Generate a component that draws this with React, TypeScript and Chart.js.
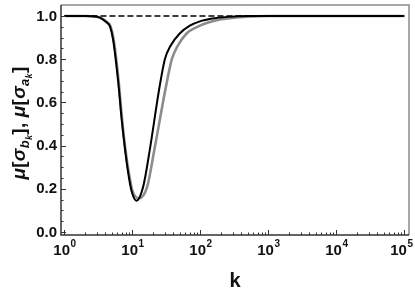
import React, { useEffect, useRef } from "react";
import { Chart, registerables } from "chart.js";

Chart.register(...registerables);

// Black curve  mu[sigma_bk]
const blackK = [1, 2, 3, 4.2, 4.7, 5.2, 6.2, 6.9, 7.8, 8.7, 9.7, 11.5, 14.4, 18, 25, 30, 36, 50, 70, 98, 150, 250, 500, 1000, 10000, 100000];
const blackV = [1, 1, 0.997, 0.97, 0.95, 0.89, 0.69, 0.53, 0.38, 0.27, 0.19, 0.145, 0.21, 0.38, 0.67, 0.8, 0.86, 0.92, 0.955, 0.975, 0.988, 0.996, 1, 1, 1, 1];
// Gray curve  mu[sigma_ak]
const grayK = [1, 2, 3, 4.3, 4.8, 5.3, 6.3, 7.0, 7.9, 8.9, 10, 12.6, 16.5, 21, 31, 38, 46, 63, 90, 130, 200, 350, 600, 1000, 10000, 100000];
const grayV = [1, 1, 0.997, 0.97, 0.95, 0.89, 0.69, 0.53, 0.38, 0.27, 0.19, 0.156, 0.21, 0.38, 0.67, 0.8, 0.86, 0.92, 0.95, 0.97, 0.985, 0.994, 0.998, 1, 1, 1];
// Reference dashed line
const refK = [1, 100000];
const refV = [1, 1];

const yTickLabels = ["0.0", "0.2", "0.4", "0.6", "0.8", "1.0"];
const xTickExps = ["0", "1", "2", "3", "4", "5"];

const FONT = '"Liberation Sans", Arial, sans-serif';

const decorPlugin = {
  id: "decor",
  afterDraw(chart: any) {
    const ctx = chart.ctx;
    const { left, right, top, bottom } = chart.chartArea;
    const xs = chart.scales.x;
    const ys = chart.scales.y;
    ctx.save();
    // frame
    ctx.lineWidth = 1.5;
    ctx.strokeStyle = "#8a8a8a";
    ctx.beginPath();
    ctx.moveTo(left, top);
    ctx.lineTo(right, top);
    ctx.lineTo(right, bottom);
    ctx.stroke();
    ctx.strokeStyle = "#333";
    ctx.beginPath();
    ctx.moveTo(left, top);
    ctx.lineTo(left, bottom);
    ctx.lineTo(right, bottom);
    ctx.stroke();

    // y ticks
    ctx.lineWidth = 1;
    ctx.strokeStyle = "#333";
    for (let i = 0; i <= 20; i++) {
      const v = i * 0.05;
      const py = Math.round(ys.getPixelForValue(v)) + 0.5;
      const major = i % 4 === 0;
      ctx.beginPath();
      ctx.moveTo(left, py);
      ctx.lineTo(left + (major ? 5 : 2.5), py);
      ctx.stroke();
    }
    ctx.fillStyle = "#111";
    ctx.font = `bold 15px ${FONT}`;
    ctx.textAlign = "right";
    ctx.textBaseline = "middle";
    yTickLabels.forEach((lab) => {
      const py = ys.getPixelForValue(parseFloat(lab));
      ctx.fillText(lab, left - 4, py + 0.5);
    });

    // x ticks
    for (let e = 0; e <= 5; e++) {
      for (let m = 1; m <= 9; m++) {
        const val = m * Math.pow(10, e);
        if (val > xs.max) continue;
        const px = Math.round(xs.getPixelForValue(val)) + 0.5;
        const major = m === 1;
        ctx.beginPath();
        ctx.moveTo(px, bottom);
        ctx.lineTo(px, bottom - (major ? 5 : 2.5));
        ctx.stroke();
      }
    }
    xTickExps.forEach((ex) => {
      const px = xs.getPixelForValue(Math.pow(10, parseInt(ex)));
      ctx.font = `bold 15px ${FONT}`;
      const w1 = ctx.measureText("10").width;
      ctx.font = `bold 10px ${FONT}`;
      const w2 = ctx.measureText(ex).width;
      let x0 = px - (w1 + w2) / 2;
      if (x0 + w1 + w2 + 0.5 > 413) x0 = 413 - w1 - w2 - 0.5;
      ctx.textAlign = "left";
      ctx.textBaseline = "alphabetic";
      ctx.font = `bold 15px ${FONT}`;
      ctx.fillText("10", x0, bottom + 20);
      ctx.font = `bold 10px ${FONT}`;
      ctx.fillText(ex, x0 + w1 + 0.5, bottom + 12);
    });

    // x title
    ctx.font = `bold 20px ${FONT}`;
    ctx.textAlign = "center";
    ctx.textBaseline = "alphabetic";
    ctx.fillText("k", (left + right) / 2, 287);

    // y title
    const big = 19;
    const segs: any[] = [
      { t: "μ", f: `bold italic ${big}px ${FONT}`, dy: 0 },
      { t: "[", f: `bold ${big}px ${FONT}`, dy: 0 },
      { t: "σ", f: `bold italic ${big}px ${FONT}`, dy: 0 },
      { t: "b", f: `bold italic 13px ${FONT}`, dy: 4 },
      { t: "k", f: `bold italic 9px ${FONT}`, dy: 7 },
      { t: "]", f: `bold ${big}px ${FONT}`, dy: 0 },
      { t: ", ", f: `bold ${big}px ${FONT}`, dy: 0 },
      { t: "μ", f: `bold italic ${big}px ${FONT}`, dy: 0 },
      { t: "[", f: `bold ${big}px ${FONT}`, dy: 0 },
      { t: "σ", f: `bold italic ${big}px ${FONT}`, dy: 0 },
      { t: "a", f: `bold italic 13px ${FONT}`, dy: 4 },
      { t: "k", f: `bold italic 9px ${FONT}`, dy: 7 },
      { t: "]", f: `bold ${big}px ${FONT}`, dy: 0 },
    ];
    let total = 0;
    segs.forEach((s) => {
      ctx.font = s.f;
      s.w = ctx.measureText(s.t).width + 0.3;
      total += s.w;
    });
    ctx.translate(25, 123);
    ctx.rotate(-Math.PI / 2);
    ctx.textAlign = "left";
    ctx.textBaseline = "alphabetic";
    let cx = -total / 2;
    segs.forEach((s) => {
      ctx.font = s.f;
      ctx.fillText(s.t, cx, s.dy);
      cx += s.w;
    });
    ctx.restore();
  },
};

export default function App() {
  const ref = useRef<HTMLCanvasElement>(null);
  useEffect(() => {
    if (!ref.current) return;
    const toPts = (ks: number[], vs: number[]) => ks.map((k, i) => ({ x: k, y: vs[i] }));
    const chart = new Chart(ref.current, {
      type: "line",
      data: {
        datasets: [
          {
            data: toPts(refK, refV),
            borderColor: "#000",
            borderWidth: 1.6,
            borderDash: [6, 3],
            pointRadius: 0,
            fill: false,
          },
          {
            data: toPts(blackK, blackV),
            borderColor: "#000",
            borderWidth: 2,
            pointRadius: 0,
            cubicInterpolationMode: "monotone",
            fill: false,
          },
          {
            data: toPts(grayK, grayV),
            borderColor: "#8c8c8c",
            borderWidth: 2.6,
            pointRadius: 0,
            cubicInterpolationMode: "monotone",
            fill: false,
          },
        ],
      },
      options: {
        animation: false,
        responsive: false,
        devicePixelRatio: 1,
        layout: { padding: { top: 5, right: 6, left: 0, bottom: 0 } },
        plugins: { legend: { display: false }, tooltip: { enabled: false } },
        scales: {
          x: {
            type: "logarithmic",
            min: 0.89,
            max: 117000,
            ticks: { display: false },
            grid: { display: false },
            border: { display: false },
            afterFit: (s: any) => {
              s.height = 56;
            },
          },
          y: {
            type: "linear",
            min: -0.014,
            max: 1.051,
            ticks: { display: false },
            grid: { display: false },
            border: { display: false },
            afterFit: (s: any) => {
              s.width = 61;
            },
          },
        },
      },
      plugins: [decorPlugin],
    } as any);
    return () => chart.destroy();
  }, []);
  return (
    <div style={{ position: "fixed", left: 0, top: 0, width: 415, height: 291, background: "#fff" }}>
      <canvas ref={ref} width={415} height={291} style={{ display: "block" }} />
    </div>
  );
}
